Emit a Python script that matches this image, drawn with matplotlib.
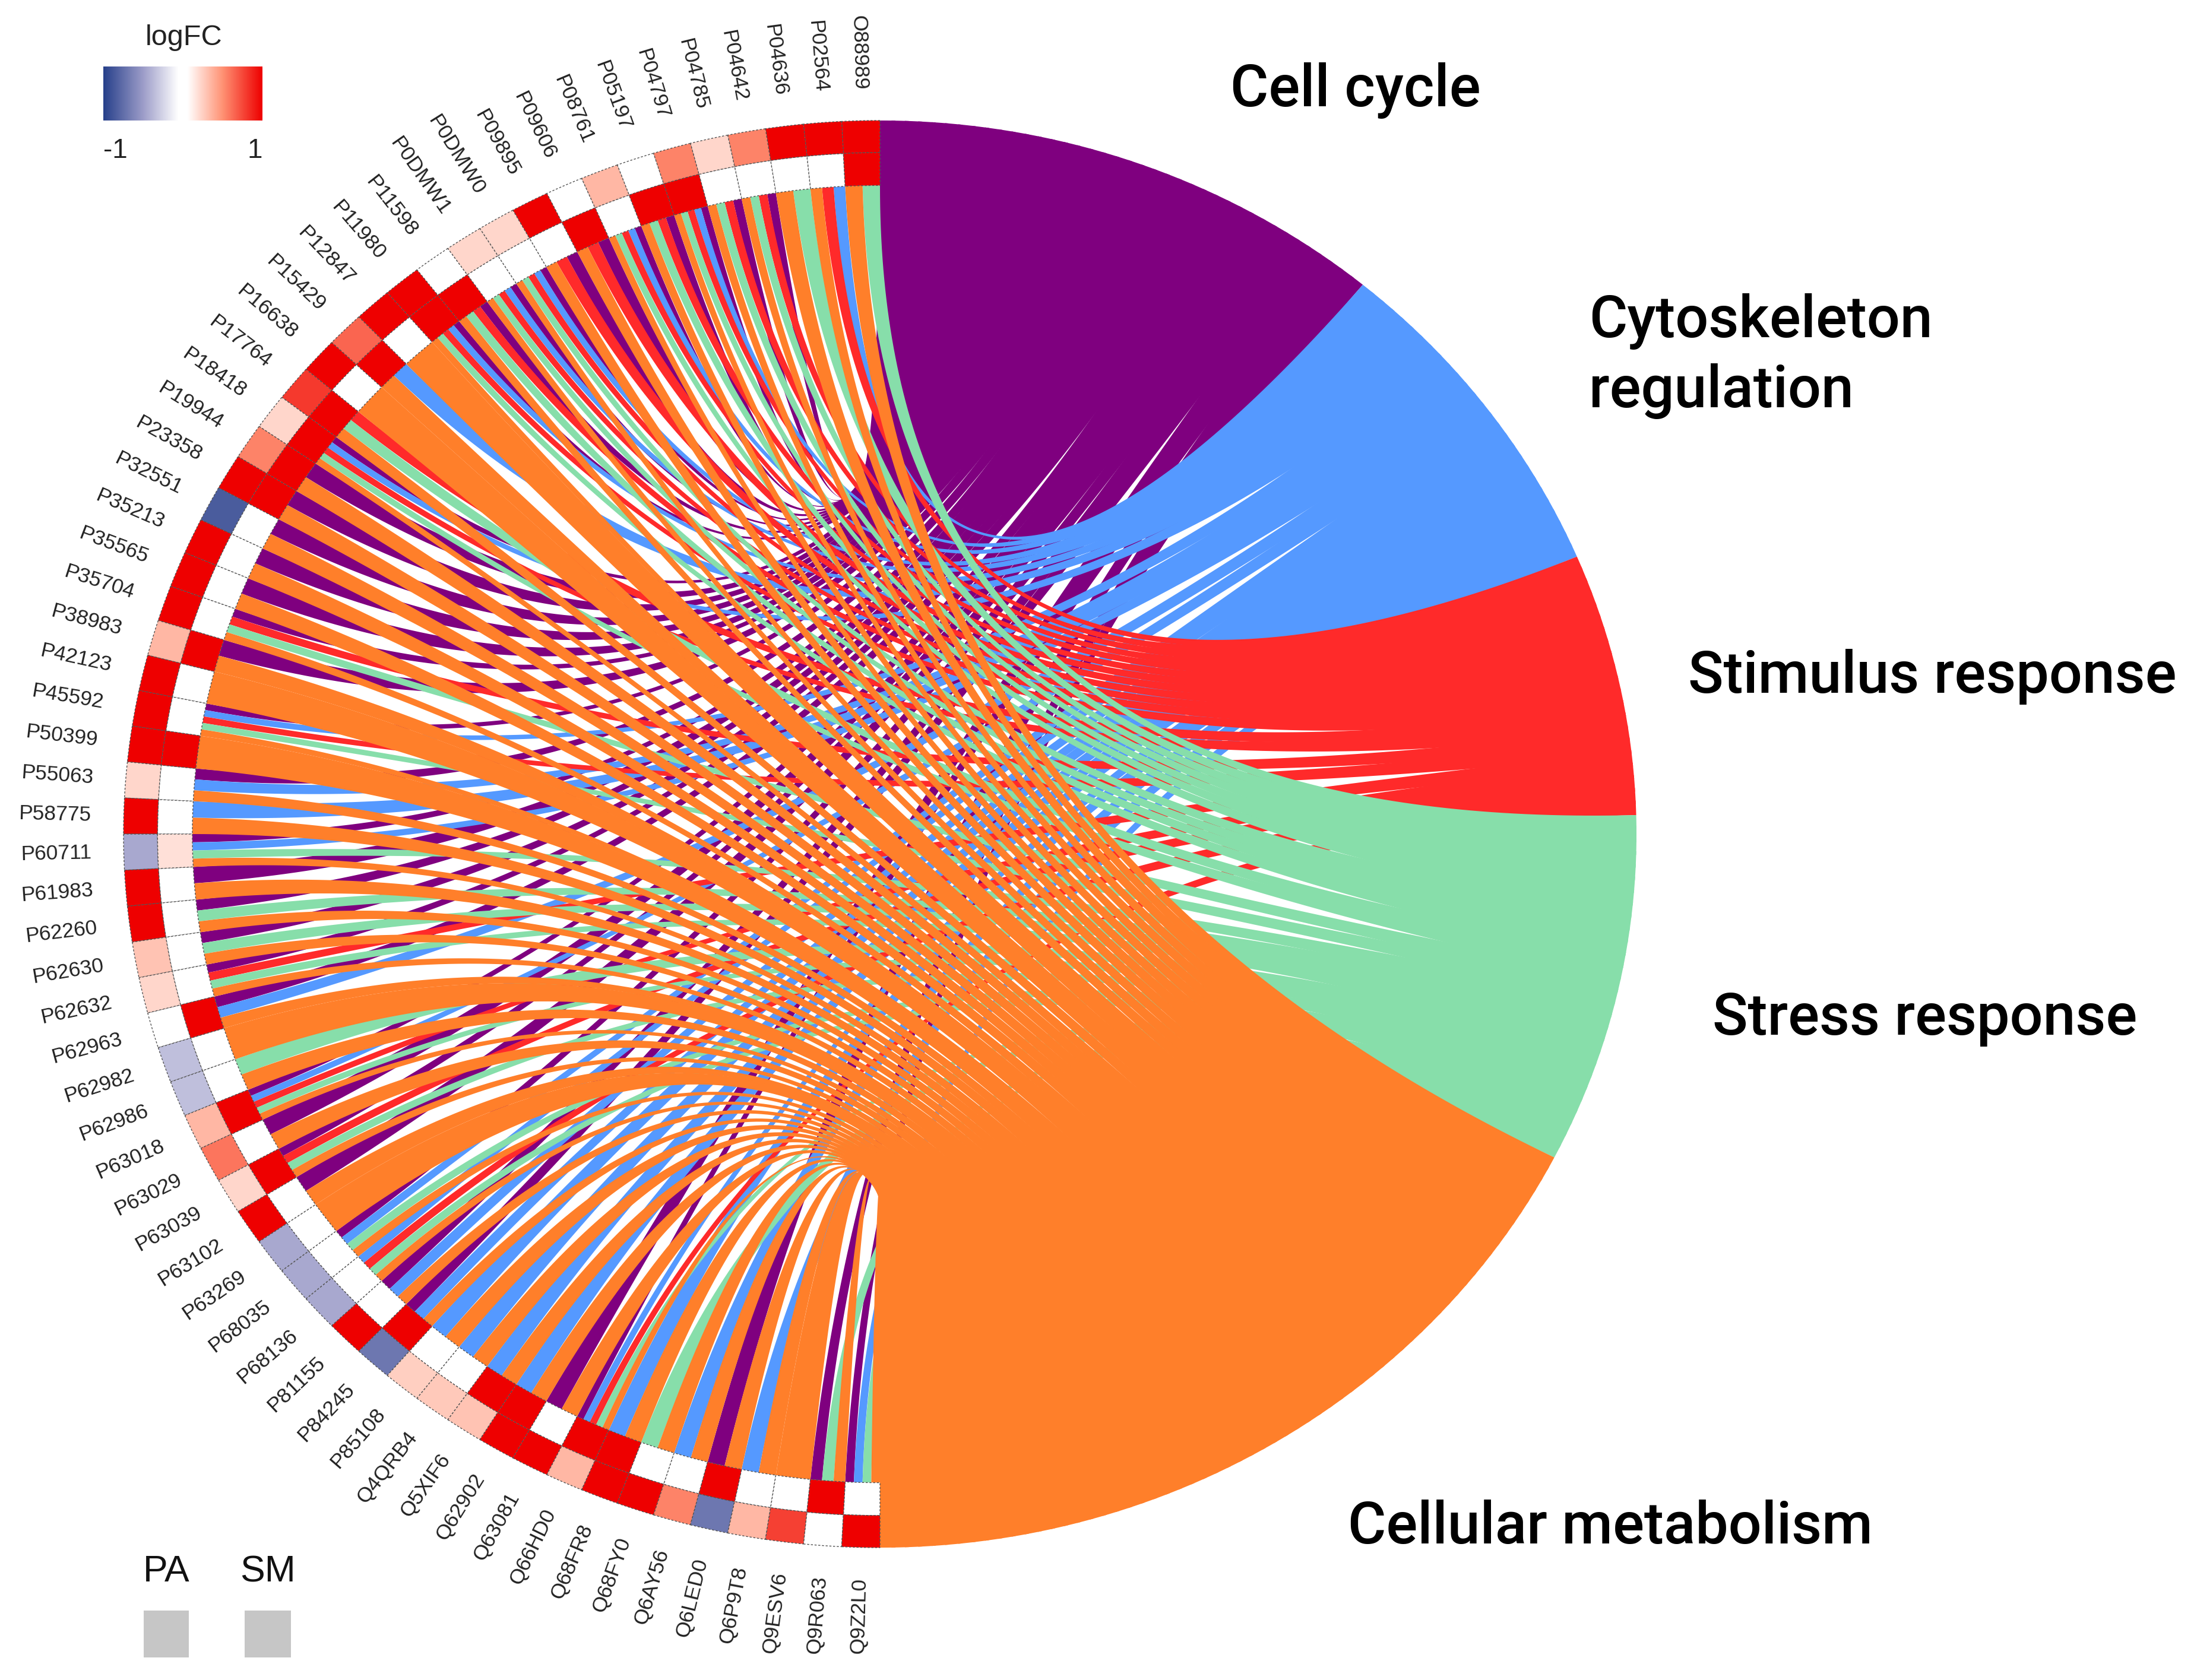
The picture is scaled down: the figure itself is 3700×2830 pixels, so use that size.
import numpy as np
import matplotlib
matplotlib.use("Agg")
import matplotlib.pyplot as plt
from matplotlib.colors import LinearSegmentedColormap
from matplotlib.patches import Polygon, Rectangle

genes = ["O88989","P02564","P04636","P04642","P04785","P04797","P05197","P08761","P09606","P09895",
         "P0DMW0","P0DMW1","P11598","P11980","P12847","P15429","P16638","P17764","P18418","P19944",
         "P23358","P32551","P35213","P35565","P35704","P38983","P42123","P45592","P50399","P55063",
         "P58775","P60711","P61983","P62260","P62630","P62632","P62963","P62982","P62986","P63018",
         "P63029","P63039","P63102","P63269","P68035","P68136","P81155","P84245","P85108","Q4QRB4",
         "Q5XIF6","Q62902","Q63081","Q66HD0","Q68FR8","Q68FY0","Q6AY56","Q6LED0","Q6P9T8","Q9ESV6",
         "Q9R063","Q9Z2L0"]

lfc_outer = [1,1,1,.55,.22,.55,0,.35,0,1,.22,.22,0,1,1,.65,1,.8,.22,.55,1,-.85,1,1,1,.35,1,1,1,.22,
             1,-.45,1,1,.3,.22,0,-.35,-.35,.35,.6,.22,1,-.45,-.45,-.45,1,-.7,.25,.28,.3,1,1,.35,1,1,
             .55,-.7,.35,.78,0,1]
lfc_inner = [1,0,0,0,0,1,1,0,1,0,0,0,1,1,0,1,0,1,1,1,1,0,0,0,0,1,0,0,1,0,0,.18,0,0,0,0,1,0,0,1,
             0,1,0,0,0,0,0,1,0,0,1,1,0,1,1,0,0,1,0,0,1,0]

term_names = ["Cell cycle", "Cytoskeleton\nregulation", "Stimulus response", "Stress response", "Cellular metabolism"]
term_keys = ["P", "B", "R", "G", "O"]
term_colors = ["#7F007F", "#5599FF", "#FF2A2A", "#87DEAA", "#FF7F2A"]

gene_terms = ["GO","BRO","GO","PRGO","PRGO","PBRGO","PRGO","PBRGO","PRO","PRO",
              "PBRGO","PBRGO","PRGO","PBRGO","O","BO","O","RGO","PBRGO","PO",
              "PO","PO","PO","PO","PRGO","PO","O","PBRGO","O","PBO",
              "BO","PBGO","PO","PGO","PGO","PRGO","PBO","O","GO","PBRGO",
              "PO","PRGO","PO","O","PBGO","BRGO","PBO","PBO","BO","BO",
              "BO","BO","PO","PBRGO","BO","GO","BO","PO","BO","O",
              "PGO","PBGO"]

CX, CY, RX, RY = 1482.0, 1405.0, 1274.0, 1202.0
R_IN, R_MID = 0.909, 0.955
TERM_OVERLAP = 1.3

def to_px(r, phi):
    return CX + RX * r * np.sin(phi), CY - RY * r * np.cos(phi)

cmap = LinearSegmentedColormap.from_list("lfc", [
    (0.0, "#27408B"), (0.25, "#9D9DC9"), (0.47, "#FFFFFF"), (0.53, "#FFFFFF"),
    (0.75, "#FF9274"), (1.0, "#EE0000")])
def col(v):
    return cmap((v + 1) / 2)

fig = plt.figure(figsize=(37, 28.3), dpi=100, facecolor="white")
ax = fig.add_axes([0, 0, 1, 1])

n = len(genes)
dg = np.pi / n
total = sum(len(s) for s in gene_terms)
dt = np.pi / total
counts = [sum(k in s for s in gene_terms) for k in term_keys]
starts = np.concatenate([[0], np.cumsum(counts)[:-1]]) * dt
seen = [0] * 5
T = np.linspace(0, 1, 120)

ribbons = []
for i, s in enumerate(gene_terms):
    w = dg / len(s)
    for j, k in enumerate(s):
        t = term_keys.index(k)
        g0 = -(i * dg + j * w)
        g1 = -(i * dg + (j + 1) * w)
        mid = starts[t] + (seen[t] + 0.5) * dt
        lo, hi = starts[t], starts[t] + counts[t] * dt
        p0 = max(lo, mid - TERM_OVERLAP * dt / 2)
        p1 = min(hi, mid + TERM_OVERLAP * dt / 2)
        seen[t] += 1
        ribbons.append((t, g0, g1, p0, p1))

def curve(g, p):
    gx, gy = R_IN * np.sin(g), R_IN * np.cos(g)
    tx, ty = np.sin(p), np.cos(p)
    ux = (1 - T) ** 2 * gx + T ** 2 * tx
    uy = (1 - T) ** 2 * gy + T ** 2 * ty
    return CX + RX * ux, CY - RY * uy

for t, g0, g1, p0, p1 in sorted(ribbons, key=lambda x: x[0]):
    x0, y0 = curve(g0, p0)
    x1, y1 = curve(g1, p1)
    ax_, ay_ = to_px(1.0, np.linspace(p0, p1, 6))
    bx_, by_ = to_px(R_IN, np.linspace(g1, g0, 6))
    xs = np.concatenate([x0, ax_, x1[::-1], bx_])
    ys = np.concatenate([y0, ay_, y1[::-1], by_])
    ax.add_patch(Polygon(np.column_stack([xs, ys]), closed=True, facecolor=term_colors[t],
                         edgecolor="none", zorder=2 + t * 0.1))

def cell(i, r0, r1, v):
    phi = -np.linspace(i * dg, (i + 1) * dg, 12)
    xa, ya = to_px(r1, phi)
    xb, yb = to_px(r0, phi[::-1])
    ax.add_patch(Polygon(np.column_stack([np.r_[xa, xb], np.r_[ya, yb]]), closed=True,
                         facecolor=col(v), edgecolor="#555555", linewidth=1.0,
                         linestyle=(0, (2.5, 2)), zorder=3 + (0 if v == 0 else 0.1)))

for i in range(n):
    cell(i, R_MID, 1.0, lfc_outer[i])
    cell(i, R_IN, R_MID, lfc_inner[i])

for i, g in enumerate(genes):
    phi = -(i + 0.5) * dg
    x, y = to_px(1.043, phi)
    dx, dy = np.sin(phi) * RX, np.cos(phi) * RY
    rot = np.degrees(np.arctan2(-dy, -dx))
    ax.text(x, y, g, rotation=rot, rotation_mode="anchor", ha="right", va="center",
            fontsize=25.5, color="#222222", family=["Liberation Sans", "DejaVu Sans"], zorder=5)

head_font = ["Roboto", "DejaVu Sans"]
term_text = [(2072, 152), (2676, 600), (2843, 1140), (2884, 1716), (2270, 2573)]
for name, (x, y) in zip(term_names, term_text):
    ax.text(x, y, name, ha="left", va="center", fontsize=71, color="black", family=head_font,
            fontweight="medium", linespacing=1.3, zorder=5)

sans = ["Liberation Sans", "DejaVu Sans"]
grad = np.linspace(-1, 1, 256).reshape(1, -1)
ax.imshow(grad, cmap=cmap, vmin=-1, vmax=1, extent=(174, 442, 203, 112), aspect="auto", zorder=4)
ax.text(310, 64, "logFC", ha="center", va="center", fontsize=35, color="#222222", family=sans)
ax.text(174, 254, "-1", ha="left", va="center", fontsize=33, color="#222222", family=sans)
ax.text(442, 254, "1", ha="right", va="center", fontsize=33, color="#222222", family=sans)

ax.text(280, 2648, "PA", ha="center", va="center", fontsize=45, color="#111111", family=sans)
ax.text(451, 2648, "SM", ha="center", va="center", fontsize=45, color="#111111", family=sans)
ax.add_patch(Rectangle((242, 2713), 76, 79, facecolor="#C6C6C6", edgecolor="none"))
ax.add_patch(Rectangle((412, 2713), 78, 79, facecolor="#C6C6C6", edgecolor="none"))

ax.set_xlim(0, 3700)
ax.set_ylim(2830, 0)
ax.axis("off")
fig.savefig("out.png", dpi=100, facecolor="white")
